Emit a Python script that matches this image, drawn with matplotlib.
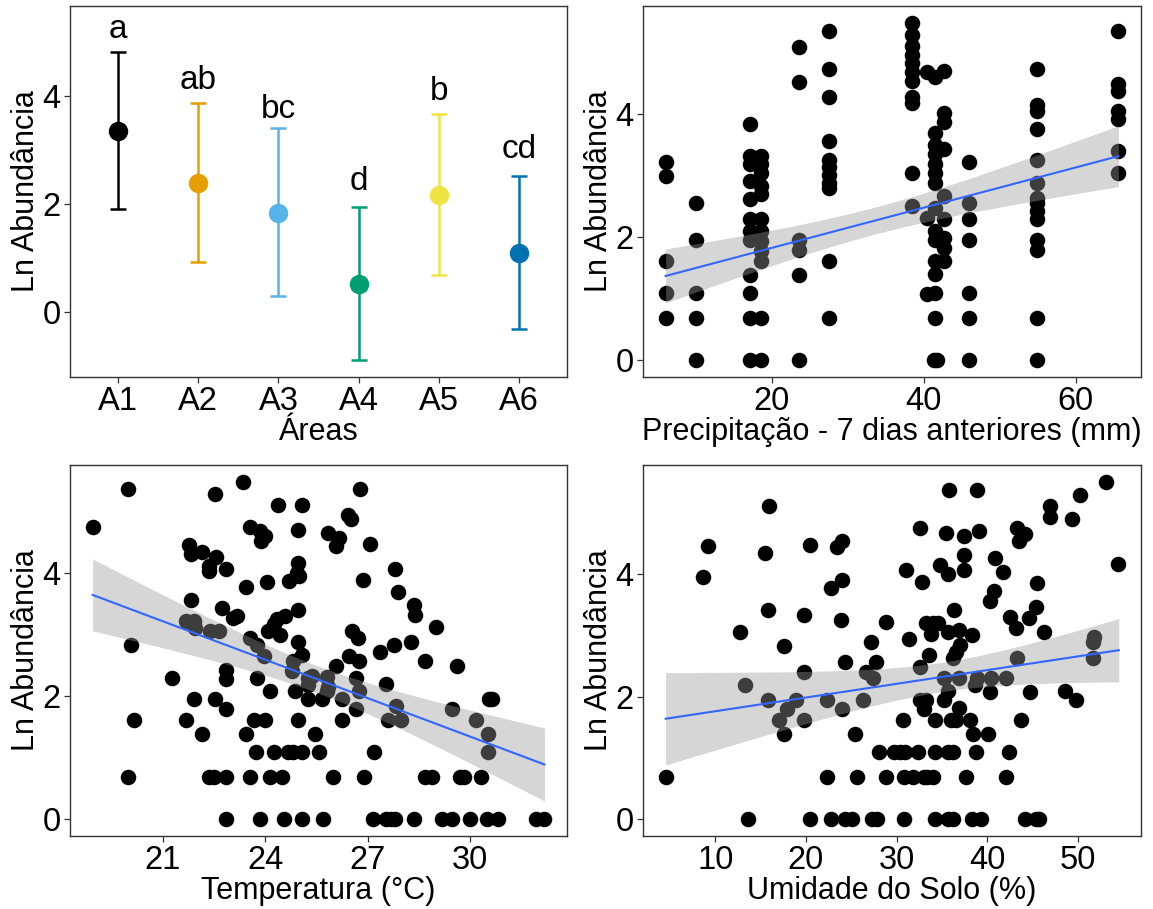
import numpy as np
import matplotlib.pyplot as plt

plt.rcParams['font.family'] = ['Liberation Sans', 'DejaVu Sans']

# --- Abundance by area (mean with error bars and letters) ---
areas = ['A1', 'A2', 'A3', 'A4', 'A5', 'A6']
area_mean = [3.35, 2.38, 1.83, 0.51, 2.17, 1.09]
area_low = [1.90, 0.92, 0.30, -0.89, 0.69, -0.32]
area_high = [4.82, 3.87, 3.40, 1.94, 3.66, 2.51]
area_letters = ['a', 'ab', 'bc', 'd', 'b', 'cd']
letter_y = [5.22, 4.28, 3.75, 2.42, 4.08, 3.00]
area_colors = ['#000000', '#E69F00', '#56B4E9', '#009E73', '#F0E442', '#0072B2']

# --- Precipitation of the 7 previous days ---
precip_mm = [
    6.0, 6.0, 6.0, 6.0, 6.0,
    10.0, 10.0, 10.0, 10.0, 10.0,
    17.1, 17.1, 17.1, 17.1, 17.1, 17.1, 17.1, 17.1, 17.1, 17.1, 17.1, 17.1,
    18.6, 18.6, 18.6, 18.6, 18.6, 18.6, 18.6, 18.6, 18.6, 18.6, 18.6, 18.6,
    23.5, 23.5, 23.5, 23.5, 23.5, 23.5,
    27.5, 27.5, 27.5, 27.5, 27.5, 27.5, 27.5, 27.5, 27.5, 27.5, 27.5,
    38.4, 38.4, 38.4, 38.4, 38.4, 38.4, 38.4, 38.4, 38.4, 38.4, 38.4,
    40.4, 40.4, 40.4,
    41.5, 41.5, 41.5, 41.5, 41.5, 41.5, 41.5, 41.5, 41.5, 41.5, 41.5, 41.5, 41.5, 41.5, 41.3, 41.7,
    42.7, 42.7, 42.7, 42.7, 42.7, 42.7, 42.7, 42.7, 42.7,
    45.9, 45.9, 45.9, 45.9, 45.9, 45.9, 45.9,
    54.9, 54.9, 54.9, 54.9, 54.9, 54.9, 54.9, 54.9, 54.9, 54.9, 54.9, 54.9, 54.9, 54.9,
    65.6, 65.6, 65.6, 65.6, 65.6, 65.6, 65.6,
]
precip_ln = [
    3.22, 3.00, 1.61, 1.10, 0.69,
    2.56, 1.95, 1.10, 0.69, 0.00,
    3.85, 3.32, 3.19, 2.92, 2.63, 2.29, 2.10, 1.95, 1.38, 1.10, 0.69, 0.00,
    3.33, 3.19, 3.04, 2.83, 2.70, 2.29, 2.10, 1.94, 1.78, 1.61, 0.69, 0.00,
    5.09, 4.52, 1.95, 1.79, 1.38, 0.00,
    5.36, 4.74, 4.29, 3.56, 3.25, 3.15, 3.02, 2.89, 2.81, 1.61, 0.69,
    5.49, 5.30, 5.11, 4.97, 4.84, 4.69, 4.55, 4.29, 4.19, 3.04, 2.51,
    4.69, 2.31, 1.08,
    4.61, 3.70, 3.51, 3.35, 3.19, 3.05, 2.89, 2.48, 2.10, 1.95, 1.61, 1.40, 1.10, 0.69, 0.00, 0.00,
    4.71, 4.03, 3.87, 3.43, 2.67, 2.29, 1.99, 1.83, 1.61,
    3.22, 2.56, 2.30, 1.95, 1.10, 0.69, 0.00,
    4.74, 4.16, 4.06, 3.77, 3.25, 2.89, 2.64, 2.56, 2.43, 2.30, 1.95, 1.79, 0.69, 0.00,
    5.36, 4.50, 4.38, 4.06, 3.92, 3.41, 3.04,
]

# --- Air temperature ---
temp_c = [
    23.36, 19.98, 26.77, 22.53, 24.37, 25.07, 26.43, 26.50, 18.95, 23.56,
    24.96, 23.85, 25.85, 23.98, 23.88, 26.16, 26.07, 21.76, 27.08, 21.84,
    22.15, 22.55, 22.36, 22.36, 22.84, 24.96, 24.93, 24.98, 27.80, 24.04,
    24.71, 26.86, 23.45, 27.89, 21.84, 22.73, 24.95, 28.36, 28.37, 23.06,
    23.17, 24.36, 24.57, 24.09, 24.44, 24.25, 28.99, 21.68, 21.92, 21.95,
    22.39, 22.66, 26.53, 26.72, 23.56, 23.76, 24.95, 27.78, 28.27, 27.37,
    26.45, 23.96, 25.07, 24.82, 24.77, 26.74, 28.69, 26.07, 29.61, 22.84,
    22.84, 21.27, 23.76, 25.26, 25.36, 25.24, 25.80, 25.85, 26.66, 27.53,
    24.15, 24.86, 25.80, 26.74, 21.93, 22.53, 25.25, 25.66, 26.26, 30.55,
    30.65, 27.83, 26.66, 22.85, 29.48, 21.68, 20.17, 23.66, 23.99, 24.96,
    26.26, 27.58, 27.96, 30.18, 22.15, 23.45, 25.47, 30.51, 23.74, 24.26,
    24.66, 24.82, 25.07, 25.56, 27.18, 30.51, 19.98, 22.36, 22.49, 22.84,
    23.56, 24.15, 24.48, 25.98, 26.88, 28.67, 28.88, 29.70, 29.82, 30.31,
    20.06,
    22.84, 23.85, 24.55, 25.07, 25.69, 27.15, 27.53, 27.69, 27.80, 28.36,
    29.16, 29.48, 30.00, 30.49, 30.81, 31.92, 32.17,
]
temp_ln = [
    5.49, 5.37, 5.37, 5.30, 5.11, 5.11, 4.95, 4.89, 4.76, 4.76,
    4.71, 4.69, 4.66, 4.61, 4.53, 4.57, 4.45, 4.46, 4.48, 4.31,
    4.35, 4.26, 4.12, 4.04, 4.07, 4.17, 4.01, 3.96, 4.07, 3.86,
    3.88, 3.90, 3.78, 3.70, 3.56, 3.43, 3.41, 3.48, 3.33, 3.28,
    3.30, 3.25, 3.30, 3.06, 3.00, 3.18, 3.13, 3.22, 3.22, 3.11,
    3.06, 3.06, 3.06, 2.95, 2.95, 2.84, 2.89, 2.83, 2.89, 2.72,
    2.65, 2.65, 2.67, 2.57, 2.41, 2.57, 2.57, 2.49, 2.49, 2.42,
    2.28, 2.30, 2.30, 2.30, 2.33, 2.19, 2.31, 2.15, 2.30, 2.20,
    2.08, 2.09, 2.08, 2.09, 1.95, 1.96, 1.95, 1.95, 1.95, 1.95,
    1.95, 1.84, 1.79, 1.80, 1.80, 1.62, 1.62, 1.62, 1.62, 1.62,
    1.62, 1.62, 1.62, 1.62, 1.39, 1.39, 1.39, 1.39, 1.10, 1.10,
    1.10, 1.10, 1.10, 1.10, 1.10, 1.10, 0.69, 0.69, 0.69, 0.69,
    0.69, 0.69, 0.69, 0.69, 0.69, 0.69, 0.69, 0.69, 0.69, 0.69,
    2.83,
    0.00, 0.00, 0.00, 0.00, 0.00, 0.00, 0.00, 0.00, 0.00, 0.00,
    0.00, 0.00, 0.00, 0.00, 0.00, 0.00, 0.00,
]

# --- Soil moisture ---
soil_pct = [
    53.04, 35.83, 38.87, 50.20, 15.91, 46.96, 46.96, 49.39, 32.59, 43.32,
    35.43, 39.07, 37.45, 44.13, 43.52, 9.23, 20.45, 23.48, 23.97, 15.47,
    37.45, 40.81, 31.05, 34.82, 35.63, 37.45, 41.70, 54.45, 8.70, 24.00,
    32.79, 22.75, 45.47, 40.69, 40.28, 15.79, 45.34, 36.36, 19.84, 23.89,
    28.83, 42.51, 44.62, 33.20, 34.00, 34.60, 33.80, 35.63, 36.84, 38.26,
    43.12, 46.23, 12.75, 31.38, 27.13, 17.61, 37.00, 36.60, 36.20, 33.60,
    24.29, 27.73, 43.32, 51.62, 51.60, 51.80, 32.59, 19.84, 13.28, 26.60,
    27.40, 35.22, 36.84, 38.87, 38.66, 40.40, 42.10, 35.63, 40.28, 44.74,
    48.58, 49.80, 15.79, 18.95, 22.27, 26.32, 32.59, 33.20, 35.22, 17.94,
    23.97, 33.00, 36.84, 17.00, 19.84, 30.65, 34.21, 36.00, 36.60, 38.06,
    43.72, 17.53, 25.42, 38.46, 40.08,
    28.02, 29.76, 30.36, 30.97, 32.39, 34.21, 35.63, 36.23, 38.79, 42.43,
    4.53, 22.27, 25.59, 28.83, 30.77, 31.78, 33.00, 33.40, 34.00, 37.65, 42.10,
    13.56, 20.45, 22.79, 24.29, 25.10, 27.33, 27.85, 30.77, 34.21, 35.63,
    36.23, 38.26, 39.27, 44.13, 45.34, 45.75,
]
soil_ln = [
    5.51, 5.37, 5.37, 5.29, 5.11, 5.11, 4.93, 4.91, 4.76, 4.76,
    4.68, 4.71, 4.62, 4.66, 4.55, 4.46, 4.48, 4.45, 4.54, 4.34,
    4.31, 4.27, 4.07, 4.15, 4.01, 4.07, 4.04, 4.17, 3.95, 3.90,
    3.88, 3.78, 3.86, 3.72, 3.56, 3.42, 3.47, 3.41, 3.33, 3.26,
    3.22, 3.30, 3.29, 3.21, 3.21, 3.21, 3.03, 3.05, 3.09, 3.01,
    3.12, 3.05, 3.05, 2.94, 2.89, 2.83, 2.84, 2.73, 2.63, 2.68,
    2.57, 2.56, 2.64, 2.64, 2.90, 2.98, 2.49, 2.41, 2.19, 2.40,
    2.30, 2.30, 2.30, 2.30, 2.19, 2.31, 2.31, 2.09, 2.08, 2.08,
    2.09, 1.95, 1.95, 1.95, 1.95, 1.95, 1.95, 1.95, 1.95, 1.80,
    1.80, 1.80, 1.81, 1.62, 1.62, 1.62, 1.62, 1.62, 1.62, 1.62,
    1.62, 1.39, 1.39, 1.39, 1.39,
    1.10, 1.10, 1.10, 1.10, 1.10, 1.10, 1.10, 1.10, 1.10, 1.10,
    0.69, 0.69, 0.69, 0.69, 0.69, 0.69, 0.69, 0.69, 0.69, 0.69, 0.69,
    0.00, 0.00, 0.00, 0.00, 0.00, 0.00, 0.00, 0.00, 0.00, 0.00,
    0.00, 0.00, 0.00, 0.00, 0.00, 0.00,
]

# Linear fits: (x at ends, fitted y at ends) and the 95% band
# (x where it is narrowest, narrowest half width, half width at the left end)
precip_fit_x, precip_fit_y, precip_band = [6.0, 65.6], [1.37, 3.32], [33.5, 0.22, 0.44]
temp_fit_x, temp_fit_y, temp_band = [18.95, 32.17], [3.65, 0.89], [25.5, 0.22, 0.585]
soil_fit_x, soil_fit_y, soil_band = [4.53, 54.5], [1.64, 2.76], [35.0, 0.24, 0.755]

FIG_W, FIG_H = 1153, 909
TICK_FS = 23.5
TITLE_FS = 22


def add_panel(fig, left, top, right, bottom):
    ax = fig.add_axes([left / FIG_W, 1 - bottom / FIG_H,
                       (right - left) / FIG_W, (bottom - top) / FIG_H])
    for sp in ax.spines.values():
        sp.set_color('#333333')
        sp.set_linewidth(1.0)
    ax.tick_params(length=4, width=0.9, color='#333333', labelsize=TICK_FS,
                   labelcolor='black', pad=2.5)
    return ax


def expand(lo, hi, frac=0.05):
    span = hi - lo
    return lo - frac * span, hi + frac * span


def scatter_fit(ax, x, y, fit_x, fit_y, band, xticks, xlabel):
    ax.scatter(x, y, s=125, color='black', linewidths=0, zorder=2)
    xs = np.linspace(fit_x[0], fit_x[1], 200)
    slope = (fit_y[1] - fit_y[0]) / (fit_x[1] - fit_x[0])
    ys = fit_y[0] + slope * (xs - fit_x[0])
    xc, hmin, hleft = band
    k = (hleft ** 2 - hmin ** 2) / (fit_x[0] - xc) ** 2
    hw = np.sqrt(hmin ** 2 + k * (xs - xc) ** 2)
    ax.fill_between(xs, ys - hw, ys + hw, color='#999999', alpha=0.4,
                    linewidth=0, zorder=3)
    ax.plot(xs, ys, color='#3366FF', lw=1.5, zorder=4)
    ax.set_xlim(*expand(min(x), max(x)))
    ax.set_ylim(*expand(0, max(y)))
    ax.set_xticks(xticks)
    ax.set_yticks([0, 2, 4])
    ax.set_xlabel(xlabel, fontsize=TITLE_FS, labelpad=0)
    ax.set_ylabel('Ln Abundância', fontsize=TITLE_FS, labelpad=1)


fig = plt.figure(figsize=(FIG_W / 100, FIG_H / 100), dpi=100)

# Panel: areas
ax1 = add_panel(fig, 70, 6, 567, 377)
pos = np.arange(1, len(areas) + 1)
for i in range(len(areas)):
    ax1.errorbar(pos[i], area_mean[i],
                 yerr=[[area_mean[i] - area_low[i]], [area_high[i] - area_mean[i]]],
                 fmt='o', color=area_colors[i], ms=13, elinewidth=1.8,
                 capsize=5.6, capthick=1.8)
    ax1.text(pos[i], letter_y[i], area_letters[i], ha='center', va='center',
             fontsize=24)
ax1.set_xlim(0.4, len(areas) + 0.6)
ax1.set_ylim(*expand(min(area_low), 5.35))
ax1.set_xticks(pos)
ax1.set_xticklabels(areas)
ax1.set_yticks([0, 2, 4])
ax1.set_xlabel('Áreas', fontsize=TITLE_FS, labelpad=0)
ax1.set_ylabel('Ln Abundância', fontsize=TITLE_FS, labelpad=1)

# Panel: precipitation
ax2 = add_panel(fig, 643, 6, 1141, 377)
scatter_fit(ax2, precip_mm, precip_ln, precip_fit_x, precip_fit_y, precip_band,
            [20, 40, 60], 'Precipitação - 7 dias anteriores (mm)')

# Panel: temperature
ax3 = add_panel(fig, 70, 465, 567, 836)
scatter_fit(ax3, temp_c, temp_ln, temp_fit_x, temp_fit_y, temp_band,
            [21, 24, 27, 30], 'Temperatura (°C)')

# Panel: soil moisture
ax4 = add_panel(fig, 643, 465, 1141, 836)
scatter_fit(ax4, soil_pct, soil_ln, soil_fit_x, soil_fit_y, soil_band,
            [10, 20, 30, 40, 50], 'Umidade do Solo (%)')

fig.savefig('out.png', dpi=100)
